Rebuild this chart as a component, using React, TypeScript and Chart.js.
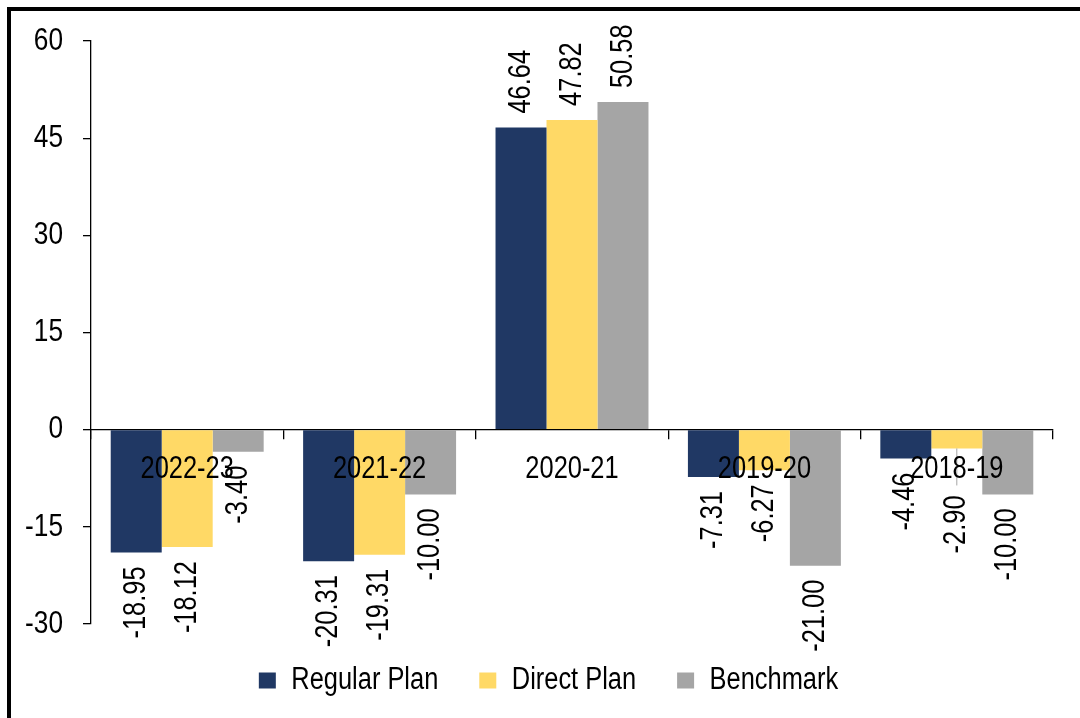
import React, { useEffect, useRef } from "react";
import { Chart, registerables } from "chart.js";

Chart.register(...registerables);

const categories = ["2022-23", "2021-22", "2020-21", "2019-20", "2018-19"];
const regularPlan = [-18.95, -20.31, 46.64, -7.31, -4.46];
const directPlan = [-18.12, -19.31, 47.82, -6.27, -2.9];
const benchmark = [-3.4, -10.0, 50.58, -21.0, -10.0];
const yTicks = [-30, -15, 0, 15, 30, 45, 60];
const seriesNames = ["Regular Plan", "Direct Plan", "Benchmark"];
const seriesColors = ["#203864", "#FFD966", "#A5A5A5"];

// label that was nudged away from its bar with a leader line
const labelNudges = [{ dataset: 1, index: 4, extra: 33 }];

const FONT = "'Liberation Sans', Arial, sans-serif";
// horizontal squeeze emulating an Arial Narrow look
const NARROW = 0.82;
// the legend row sits a little right of the canvas centre
const LEGEND_SHIFT = 22;

const valueLabels = {
  id: "valueLabels",
  afterLayout(chart: any) {
    const lg = chart.legend;
    if (lg) {
      lg.left += LEGEND_SHIFT;
      lg.right += LEGEND_SHIFT;
    }
  },
  afterDatasetsDraw(chart: any) {
    const ctx = chart.ctx;
    ctx.save();
    ctx.font = `31px ${FONT}`;
    ctx.fillStyle = "#000";
    ctx.textBaseline = "middle";
    chart.data.datasets.forEach((ds: any, di: number) => {
      const meta = chart.getDatasetMeta(di);
      meta.data.forEach((bar: any, i: number) => {
        const v = ds.data[i] as number;
        const nudge = labelNudges.find((n) => n.dataset === di && n.index === i);
        const extra = nudge ? nudge.extra : 0;
        const gap = 14 + extra;
        const y = v >= 0 ? bar.y - gap : bar.y + gap;
        if (extra) {
          ctx.save();
          ctx.strokeStyle = "#A5A5A5";
          ctx.lineWidth = 1;
          ctx.beginPath();
          ctx.moveTo(bar.x, bar.y);
          ctx.lineTo(bar.x, y - 10);
          ctx.stroke();
          ctx.restore();
        }
        ctx.save();
        ctx.translate(bar.x, y);
        ctx.rotate(-Math.PI / 2);
        ctx.textAlign = v >= 0 ? "left" : "right";
        ctx.fillText(v.toFixed(2), 0, 0);
        ctx.restore();
      });
    });
    ctx.restore();
  },
};

export default function App() {
  const ref = useRef<HTMLCanvasElement | null>(null);

  useEffect(() => {
    const canvas = ref.current;
    if (!canvas) return;
    const c2d: any = canvas.getContext("2d");
    const origFill = c2d.fillText.bind(c2d);
    const origMeasure = c2d.measureText.bind(c2d);
    c2d.fillText = (t: string, x: number, y: number, mw?: number) => {
      c2d.save();
      c2d.translate(x, y);
      c2d.scale(NARROW, 1);
      if (mw === undefined) origFill(t, 0, 0);
      else origFill(t, 0, 0, mw / NARROW);
      c2d.restore();
    };
    c2d.measureText = (t: string) => {
      const m = origMeasure(t);
      return {
        width: m.width * NARROW,
        actualBoundingBoxAscent: m.actualBoundingBoxAscent,
        actualBoundingBoxDescent: m.actualBoundingBoxDescent,
        actualBoundingBoxLeft: m.actualBoundingBoxLeft * NARROW,
        actualBoundingBoxRight: m.actualBoundingBoxRight * NARROW,
        fontBoundingBoxAscent: m.fontBoundingBoxAscent,
        fontBoundingBoxDescent: m.fontBoundingBoxDescent,
      };
    };

    const tickFont = { family: FONT, size: 32 };
    const catFont = { family: FONT, size: 31 };
    const legendFont = { family: FONT, size: 31 };
    const chart = new Chart(canvas, {
      type: "bar",
      data: {
        labels: categories,
        datasets: [regularPlan, directPlan, benchmark].map((d, k) => ({
          label: seriesNames[k],
          data: d,
          backgroundColor: seriesColors[k],
          borderWidth: 0,
          categoryPercentage: 0.795,
          barPercentage: 1.0,
        })),
      },
      options: {
        responsive: false,
        animation: false,
        layout: { padding: { left: 0, right: 27, top: 41, bottom: 12 } },
        plugins: {
          legend: {
            position: "bottom",
            labels: {
              font: legendFont,
              color: "#000",
              boxWidth: 17,
              boxHeight: 16,
              padding: 41,
            },
          },
          tooltip: { enabled: false },
        },
        scales: {
          x: {
            position: { y: 0 } as any,
            offset: true,
            grid: {
              offset: true,
              drawOnChartArea: false,
              drawTicks: true,
              tickLength: 9,
              color: "#000",
              lineWidth: 1.3,
            },
            border: { display: true, color: "#000", width: 1.3 },
            ticks: {
              font: catFont,
              color: "#000",
              padding: 12,
              maxRotation: 0,
              autoSkip: false,
              z: 1,
            },
          },
          y: {
            min: yTicks[0],
            max: yTicks[yTicks.length - 1],
            afterBuildTicks: (s: any) => {
              s.ticks = yTicks.map((v) => ({ value: v }));
            },
            ticks: { font: tickFont, color: "#000", padding: 20 },
            grid: {
              drawOnChartArea: false,
              drawTicks: true,
              tickLength: 8,
              color: "#000",
              lineWidth: 1.3,
            },
            border: { display: true, color: "#000", width: 1.3 },
            afterFit: (s: any) => {
              s.width = 91;
            },
          },
        },
      },
      plugins: [valueLabels],
    });
    return () => {
      chart.destroy();
      c2d.fillText = origFill;
      c2d.measureText = origMeasure;
    };
  }, []);

  return (
    <div
      style={{
        position: "fixed",
        left: 0,
        top: 0,
        width: 1080,
        height: 718,
        background: "#fff",
        overflow: "hidden",
      }}
    >
      <div
        style={{
          position: "absolute",
          left: 7,
          top: 7,
          width: 1120,
          height: 760,
          border: "4px solid #000",
          boxSizing: "border-box",
        }}
      />
      <canvas
        ref={ref}
        width={1080}
        height={718}
        style={{ position: "absolute", left: 0, top: 0, width: 1080, height: 718 }}
      />
    </div>
  );
}
